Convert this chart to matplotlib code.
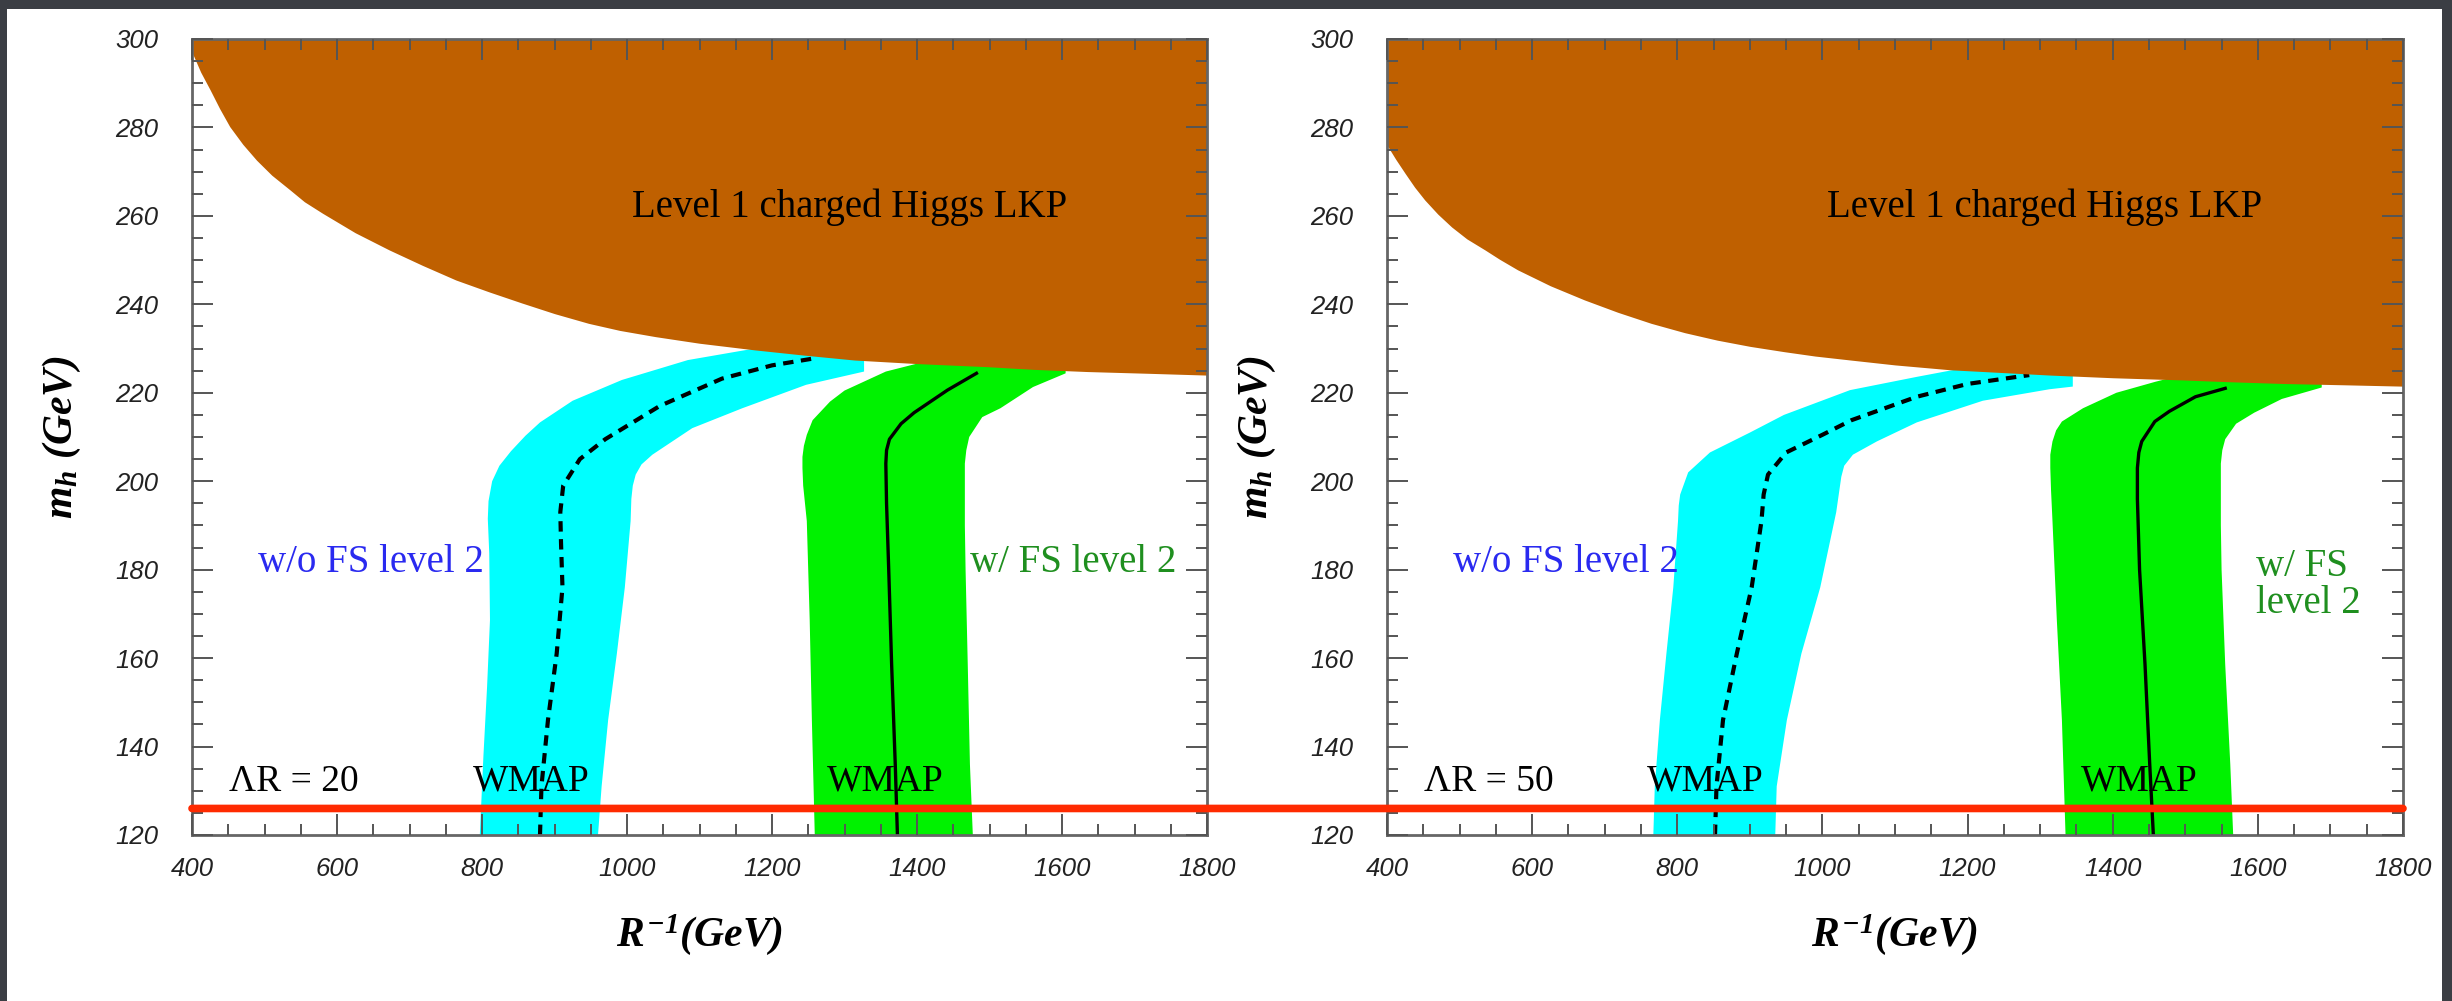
import matplotlib
matplotlib.use("Agg")
import matplotlib.pyplot as plt
from matplotlib.patches import Rectangle, ConnectionPatch
from matplotlib.ticker import MultipleLocator
from matplotlib.font_manager import FontProperties

plt.rcParams["mathtext.fontset"] = "custom"
plt.rcParams["mathtext.rm"] = "Liberation Serif:bold:italic"
plt.rcParams["mathtext.it"] = "Liberation Serif:bold:italic"
plt.rcParams["mathtext.bf"] = "Liberation Serif:bold:italic"

HIGGS_MASS = 126

# lower edge of the charged Higgs LKP region (same R^-1 grid for both panels)
lkp_x = [400, 412, 425, 438, 452, 470, 489, 510, 535, 555, 580, 625, 672, 718, 764, 810,
         855, 900, 947, 990, 1039, 1100, 1176, 1245, 1314, 1400, 1497, 1560, 1635, 1720, 1800]
lkp20_y = [297, 292.5, 288.5, 284.3, 280.2, 276.2, 272.6, 269.2, 265.9, 263.2, 260.6, 256.2,
           252.3, 248.8, 245.5, 242.8, 240.3, 237.9, 235.7, 234.1, 232.7, 231.2, 229.7, 228.5,
           227.4, 226.6, 225.9, 225.3, 224.8, 224.4, 224.0]
lkp50_y = [276, 272.8, 269.6, 266.5, 263.6, 260.4, 257.5, 254.8, 252.3, 250.2, 247.8, 244.2,
           241.0, 238.2, 235.7, 233.6, 231.9, 230.5, 229.3, 228.3, 227.4, 226.3, 225.2, 224.6,
           224.0, 223.4, 222.9, 222.5, 222.1, 221.8, 221.5]

# LambdaR = 20 : band without FS level 2 (cyan), outer edge then inner edge
c20_outer_x = [797, 802, 807, 811, 810, 808, 809, 814, 824, 840, 860, 880, 925, 993, 1084, 1158, 1250, 1327]
c20_outer_y = [120, 138, 153.5, 168.6, 183.7, 191.5, 195.5, 200, 203.5, 206.8, 210.3, 213.3, 218.2,
               222.9, 227.4, 229.5, 232, 232]
c20_inner_x = [1327, 1327, 1247, 1159, 1090, 1035, 1020, 1012, 1008, 1006, 1005, 997, 986, 974, 965, 960]
c20_inner_y = [232, 224.8, 221.8, 216.5, 212, 206, 203.8, 201.5, 199, 196, 191, 176, 161, 146, 131, 120]
d20_x = [880, 882, 891, 903, 911, 909, 908, 912, 935, 970, 1010, 1045, 1131, 1200, 1259]
d20_y = [120, 131, 146, 161, 176, 186, 193, 199, 205, 209.5, 213.5, 217, 223.2, 226.2, 227.8]

# LambdaR = 20 : band with FS level 2 (green)
g20_outer_x = [1259, 1255, 1252, 1248, 1243, 1242, 1242, 1244, 1248, 1256, 1280, 1300, 1357, 1405, 1450, 1605]
g20_outer_y = [120, 146, 168.6, 191, 199, 203, 205.5, 208, 210.5, 213.8, 218, 220.5, 224.8, 226.8, 229, 229]
g20_inner_x = [1605, 1605, 1560, 1515, 1490, 1472, 1468, 1466, 1466, 1467, 1470, 1473, 1477]
g20_inner_y = [229, 224.4, 221.3, 216.5, 214.5, 210, 207, 204, 190, 180, 158.6, 136, 120]
s20_x = [1373, 1370, 1365, 1361, 1358, 1357, 1358, 1362, 1378, 1396, 1442, 1482]
s20_y = [120, 136, 158.6, 180, 195, 204, 207, 209.5, 213, 215.5, 220.6, 224.4]

# LambdaR = 50 : band without FS level 2 (cyan)
c50_outer_x = [767, 769, 776, 785, 794.5, 801, 802, 804, 815, 845, 900, 947, 1038, 1130, 1185, 1260, 1345]
c50_outer_y = [120, 131, 146, 161, 176, 191, 194.5, 197, 202, 206.5, 211, 215, 220.6, 223.6, 225.3, 228, 228]
c50_inner_x = [1345, 1345, 1313, 1221, 1130, 1075, 1042, 1030, 1026, 1019, 997, 971, 951, 937, 935]
c50_inner_y = [228, 221.4, 220.8, 218.2, 213.3, 209, 206, 203.5, 201, 193, 176, 161, 146, 131, 120]
d50_x = [852, 854, 863, 882, 902.5, 916, 919, 925, 950, 1000, 1040, 1130, 1200, 1285]
d50_y = [120, 131, 146, 161, 176, 191, 197, 201.5, 206.5, 210.5, 213.8, 219.1, 222, 224]

# LambdaR = 50 : band with FS level 2 (green)
g50_outer_x = [1335, 1330, 1323, 1317, 1315, 1314, 1314, 1317, 1322, 1330, 1359, 1405, 1459, 1520, 1688]
g50_outer_y = [120, 146, 168.6, 191, 198, 203, 206, 209, 211.5, 213.5, 216.5, 220, 222.5, 225, 225]
g50_inner_x = [1688, 1688, 1633, 1595, 1570, 1555, 1551, 1549, 1549, 1550, 1555, 1562, 1566]
g50_inner_y = [225, 221.2, 218.6, 215.5, 213, 209.5, 207, 204, 190, 180, 158.6, 136, 120]
s50_x = [1456, 1451, 1444.5, 1437, 1434, 1434, 1436, 1440, 1458, 1478, 1514, 1555]
s50_y = [120, 136, 158.6, 180, 196, 203, 206.5, 209, 213.5, 215.8, 219.1, 221]

BROWN = "#bf6000"
CYAN = "#00ffff"
GREEN = "#00f200"
SERIF = "Liberation Serif"

W, H = 2452, 1001
fig = plt.figure(figsize=(W / 100, H / 100), dpi=100, facecolor="#3b3e44")
fig.add_artist(Rectangle((7 / W, 0), (2442 - 7) / W, 1 - 9 / H,
                         transform=fig.transFigure, facecolor="white",
                         edgecolor="none", zorder=0))

ax1 = fig.add_axes([192 / W, 166 / H, 1015 / W, 796 / H])
ax2 = fig.add_axes([1387 / W, 166 / H, 1016 / W, 796 / H])

tick_font = FontProperties(family="Liberation Sans", style="italic", size=18.5)


def dibujarPanel(ax, lkp_y, cyan, dashed, green, solid, lam, fs_label, fs_x, fs_y,
                 wmap_cx, wmap_gx, text_x):
    ax.set_xlim(400, 1800)
    ax.set_ylim(120, 300)

    ax.fill(cyan[0] + cyan[2], cyan[1] + cyan[3], color=CYAN, lw=0, zorder=1)
    ax.fill(green[0] + green[2], green[1] + green[3], color=GREEN, lw=0, zorder=1)
    ax.plot(dashed[0], dashed[1], color="black", lw=3, ls=(0, (2.5, 1.8)), zorder=1.1)
    ax.plot(solid[0], solid[1], color="black", lw=2.4, zorder=1.1)
    ax.fill_between(lkp_x, lkp_y, 300, color=BROWN, lw=0, zorder=1.2)

    ax.text(text_x, 259.8, "Level 1 charged Higgs LKP", family=SERIF, fontsize=28,
            va="baseline", zorder=3)
    ax.text(491, 179.5, "w/o FS level 2", family=SERIF, fontsize=28,
            color="#2a2af0", va="baseline", zorder=3)
    ax.text(fs_x, fs_y, fs_label, family=SERIF, fontsize=28, color="#1f8f1f",
            va="baseline", linespacing=1.0, zorder=3)
    ax.text(451, 130, "\u039bR = %d" % lam, family=SERIF, fontsize=27,
            va="baseline", zorder=3)
    ax.text(wmap_cx, 130, "WMAP", family=SERIF, fontsize=27, ha="center",
            va="baseline", zorder=3)
    ax.text(wmap_gx, 130, "WMAP", family=SERIF, fontsize=27, ha="center",
            va="baseline", zorder=3)

    ax.xaxis.set_major_locator(MultipleLocator(200))
    ax.xaxis.set_minor_locator(MultipleLocator(50))
    ax.yaxis.set_major_locator(MultipleLocator(20))
    ax.yaxis.set_minor_locator(MultipleLocator(5))
    ax.set_axisbelow(False)
    ax.tick_params(which="both", direction="in", top=True, right=True,
                   color="#555555", width=1.4)
    ax.tick_params(which="major", length=15)
    ax.tick_params(which="minor", length=8)
    ax.tick_params(axis="y", pad=24)
    ax.tick_params(axis="x", pad=16)
    for lab in ax.get_xticklabels() + ax.get_yticklabels():
        lab.set_fontproperties(tick_font)
        lab.set_color("#222222")
    for sp in ax.spines.values():
        sp.set_color("#666666")
        sp.set_linewidth(2)

    ax.set_xlabel(r"$R^{-1}(GeV)$", fontsize=30, va="center")
    ax.xaxis.set_label_coords(0.5, -0.1256)
    ax.set_ylabel(r"$m_h\ (GeV)$", fontsize=30, va="center")
    ax.yaxis.set_label_coords(-0.128, 0.5)


dibujarPanel(ax1, lkp20_y,
             (c20_outer_x, c20_outer_y, c20_inner_x, c20_inner_y), (d20_x, d20_y),
             (g20_outer_x, g20_outer_y, g20_inner_x, g20_inner_y), (s20_x, s20_y),
             20, "w/ FS level 2", 1473, 179.5, 868, 1356, 1007)
dibujarPanel(ax2, lkp50_y,
             (c50_outer_x, c50_outer_y, c50_inner_x, c50_inner_y), (d50_x, d50_y),
             (g50_outer_x, g50_outer_y, g50_inner_x, g50_inner_y), (s50_x, s50_y),
             50, "w/ FS\nlevel 2", 1598, 170.1, 838, 1437, 1006)

# Higgs mass line running across both panels
linea = ConnectionPatch(xyA=(400, HIGGS_MASS), coordsA=ax1.transData,
                        xyB=(1800, HIGGS_MASS), coordsB=ax2.transData,
                        color="#ff2a00", lw=5.5, zorder=5)
fig.add_artist(linea)

fig.savefig("out.png", dpi=100, facecolor=fig.get_facecolor())
